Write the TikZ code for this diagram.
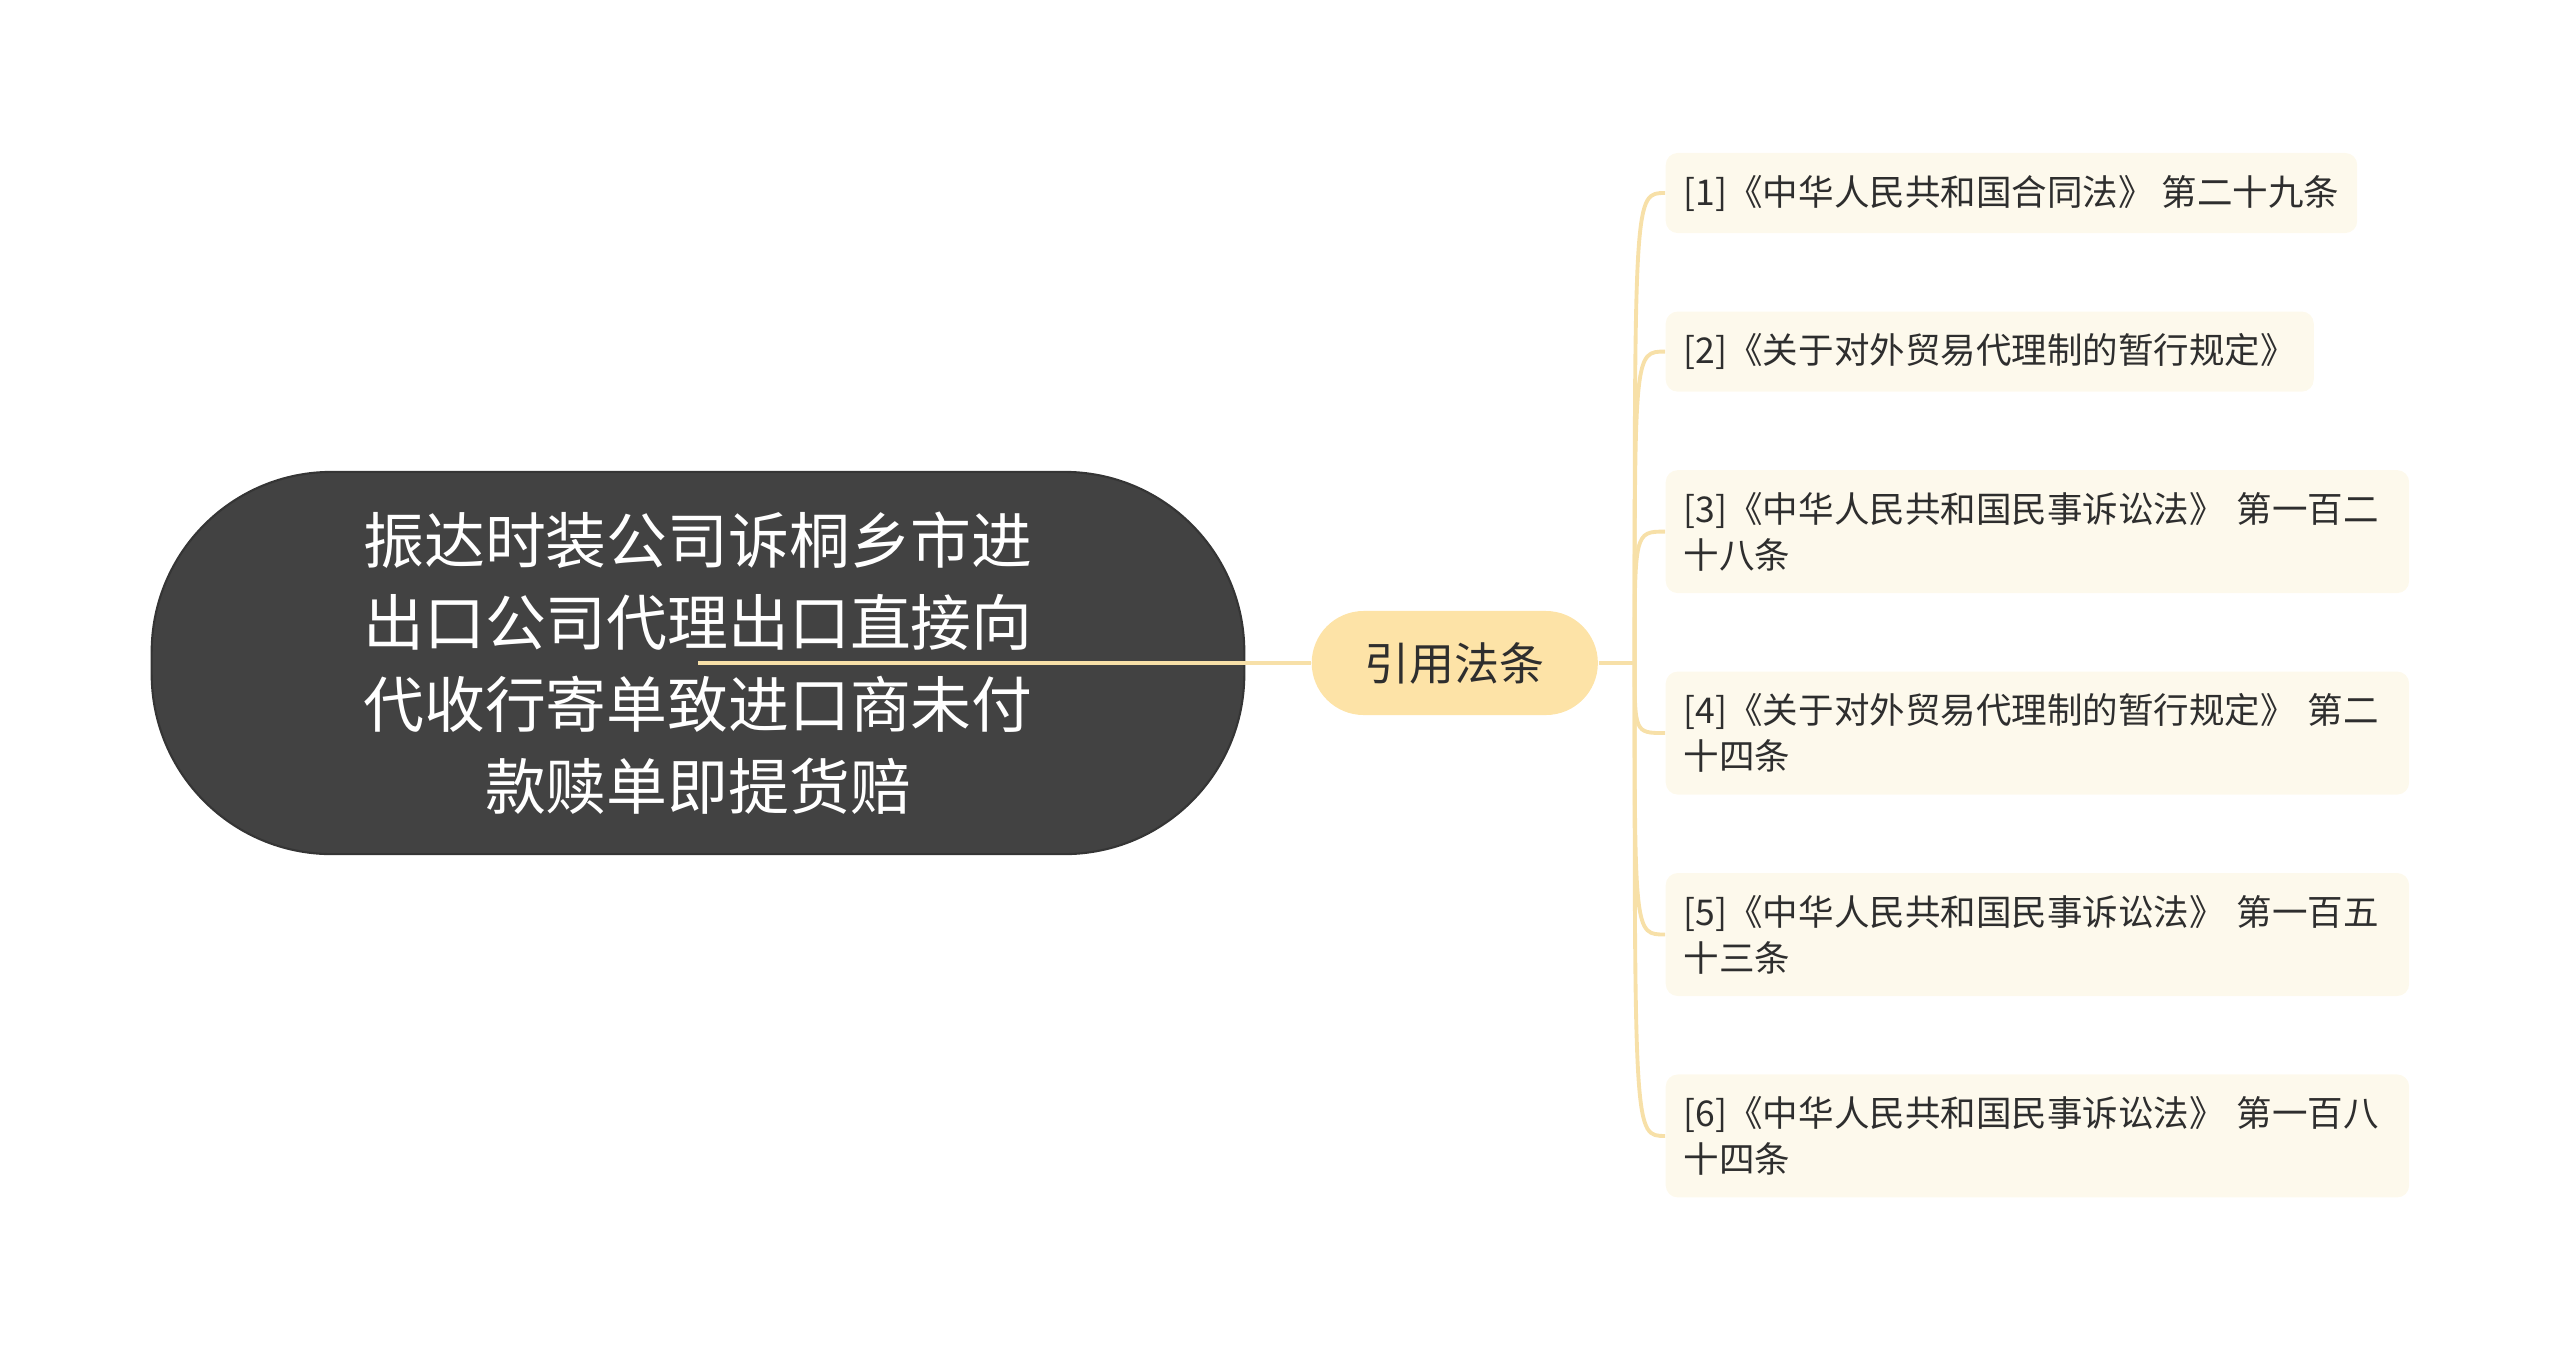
\documentclass[tikz,border=0pt]{standalone}
\usepackage{fontspec}
\setmainfont{Noto Sans CJK SC}
\usetikzlibrary{positioning}
\definecolor{rootgray}{HTML}{424242}
\definecolor{topicpeach}{HTML}{FDE3A7}
\definecolor{linkbeige}{HTML}{F7E0A8}
\definecolor{citecream}{HTML}{FDF9EC}
\definecolor{inkgray}{HTML}{2E2E2E}

\begin{document}
\begin{tikzpicture}[
    x=0.01cm, y=-0.01cm,
    rootbox/.style={fill=rootgray, draw=rootgray!80!black, line width=0.6pt,
      text=white, rounded corners=1.8cm,
      minimum width=10.92cm, minimum height=3.82cm, inner sep=0pt,
      font=\fontsize{17.3}{23.3}\selectfont, align=center},
    topicbox/.style={fill=topicpeach, text=inkgray, rounded corners=0.52cm,
      minimum width=2.86cm, minimum height=1.04cm, inner sep=0pt,
      font=\fontsize{12.8}{16}\selectfont},
    citebox/.style={fill=citecream, text=inkgray, rounded corners=0.12cm,
      inner xsep=0.18cm, inner ysep=0.22cm, minimum height=0.79cm,
      font=\fontsize{10.1}{13.1}\selectfont, align=left},
    citewide/.style={citebox, text width=7.07cm},
    link/.style={draw=linkbeige, line width=1.4pt},
    branch/.style={draw=linkbeige, line width=1.1pt},
  ]
    \useasboundingbox (0,0) rectangle (2560,1351);

    % central topic
    \node[rootbox] (root) at (698,663)
      {振达时装公司诉桐乡市进\\出口公司代理出口直接向\\代收行寄单致进口商未付\\款赎单即提货赔};
    \draw[link] (root.center) -- (1311,663) coordinate (tin);
    \node[topicbox, right=0pt of tin] (topic) {引用法条};

    % cited articles
    \node[citebox, anchor=west] (c1) at (1665,193)
      {[1]《中华人民共和国合同法》 第二十九条};
    \node[citebox, below=0.77cm of c1.south west, anchor=north west] (c2)
      {[2]《关于对外贸易代理制的暂行规定》};
    \node[citewide, below=0.77cm of c2.south west, anchor=north west] (c3)
      {[3]《中华人民共和国民事诉讼法》 第一百二\\十八条};
    \node[citewide, below=0.77cm of c3.south west, anchor=north west] (c4)
      {[4]《关于对外贸易代理制的暂行规定》 第二\\十四条};
    \node[citewide, below=0.77cm of c4.south west, anchor=north west] (c5)
      {[5]《中华人民共和国民事诉讼法》 第一百五\\十三条};
    \node[citewide, below=0.77cm of c5.south west, anchor=north west] (c6)
      {[6]《中华人民共和国民事诉讼法》 第一百八\\十四条};

    \coordinate[right=0.36cm of topic] (hub);
    \draw[link] (topic.east) -- (hub);
    \foreach \c in {c1,c2,c3,c4,c5,c6}
      \draw[branch] (hub) .. controls (hub |- \c.west) .. (\c.west);
  \end{tikzpicture}
\end{document}
